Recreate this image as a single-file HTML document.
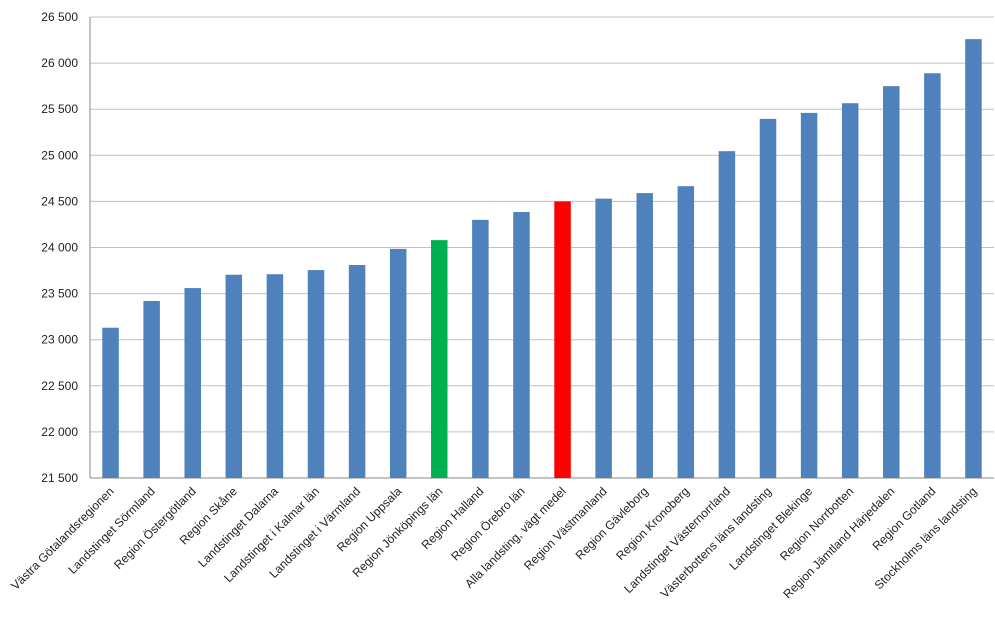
<!DOCTYPE html>
<html><head><meta charset="utf-8"><style>
body{margin:0;background:#fff;width:995px;height:619px;overflow:hidden}
svg text{font-family:"Liberation Sans",sans-serif;font-size:12px;fill:#222}
</style></head><body>
<svg id="chart" width="995" height="619" xmlns="http://www.w3.org/2000/svg"></svg>
<script>
const categories=["Västra Götalandsregionen","Landstinget Sörmland","Region Östergötland","Region Skåne","Landstinget Dalarna","Landstinget i Kalmar län","Landstinget i Värmland","Region Uppsala","Region Jönköpings län","Region Halland","Region Örebro län","Alla landsting, vägt medel","Region Västmanland","Region Gävleborg","Region Kronoberg","Landstinget Västernorrland","Västerbottens läns landsting","Landstinget Blekinge","Region Norrbotten","Region Jämtland Härjedalen","Region Gotland","Stockholms läns landsting"];
const values=[23130,23420,23560,23705,23710,23755,23810,23985,24080,24300,24385,24500,24530,24590,24665,25045,25395,25460,25565,25750,25890,26260];
const highlight={"Region Jönköpings län":"#00b050","Alla landsting, vägt medel":"#ff0000"};
const ticks=[21500,22000,22500,23000,23500,24000,24500,25000,25500,26000,26500];
const NS="http://www.w3.org/2000/svg",svg=document.getElementById('chart');
const L=90,R=994,T=17,B=478,yMin=21500,yMax=26500;
const y=v=>B-(v-yMin)/(yMax-yMin)*(B-T);
const band=(R-L)/categories.length;
const x=i=>L+band*(i+0.5);
function mk(t,a){const e=document.createElementNS(NS,t);for(const k in a)e.setAttribute(k,a[k]);svg.appendChild(e);return e;}
ticks.forEach(t=>{
 const g=mk('line',{x1:L,x2:R,y1:y(t),y2:y(t),stroke:t===yMin?'#888':'#c0c0c0','stroke-width':1});
 
 
 const tx=mk('text',{x:78,y:y(t)+4,'text-anchor':'end'});tx.textContent=t.toLocaleString('en').replace(',',' ');
 
 
});
const ax=mk('line',{x1:L,x2:L,y1:T,y2:B,stroke:'#888'});


categories.forEach((c,i)=>{
 const bw=16.5;
 const r=mk('rect',{x:x(i)-bw/2,y:y(values[i]),width:bw,height:B-y(values[i]),fill:highlight[c]||'#4f81bd'});
 
 
 const tx=mk('text',{x:x(i)+4,y:B+14,'text-anchor':'end',transform:`rotate(-45 ${x(i)+4} ${B+14})`});
 tx.textContent=c;
 
 
});
</script>
</body></html>
